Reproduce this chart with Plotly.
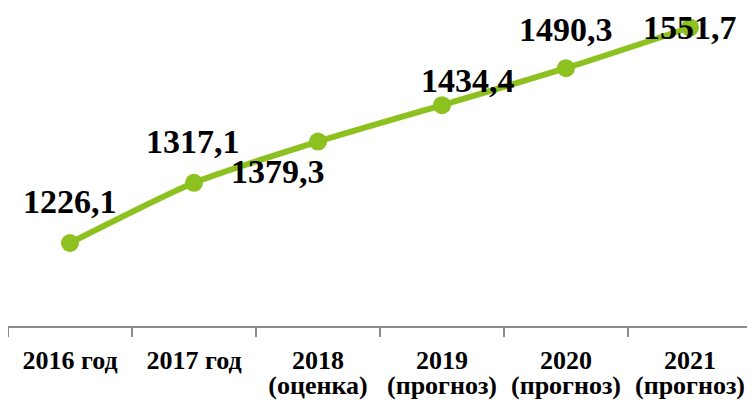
import plotly.graph_objects as go

# ── Data ──────────────────────────────────────────────────────────────────────
YEARS = ["2016 год", "2017 год", "2018", "2019", "2020", "2021"]
YEAR_NOTES = ["", "", "(оценка)", "(прогноз)", "(прогноз)", "(прогноз)"]
VALUES = [1226.1, 1317.1, 1379.3, 1434.4, 1490.3, 1551.7]
VALUE_LABELS = ["1226,1", "1317,1", "1379,3", "1434,4", "1490,3", "1551,7"]

# label offsets in px (x, y) relative to each marker
LABEL_SHIFT = [(0, 42), (-1, 41), (-40, -30), (26, 25), (0, 39), (0, 0)]

GREEN = "#8CC11F"
AXIS_GREY = "#8C8C8C"
SERIF = "Liberation Serif"

# the page body has an 8px margin, so the figure is sized to fit the window
FIG_W, FIG_H = 747, 403

categories = [f"{y} {n}".strip() for y, n in zip(YEARS, YEAR_NOTES)]


def _tick(year, note):
    # small nominal font keeps the line spacing tight, span sets the real size
    big = '<span style="font-size:26px">%s</span>'
    if note:
        return big % year + "<br>" + big % note
    return big % year


tick_text = [_tick(y, n) for y, n in zip(YEARS, YEAR_NOTES)]

fig = go.Figure()
fig.add_trace(
    go.Scatter(
        x=categories,
        y=VALUES,
        mode="lines+markers",
        line=dict(color=GREEN, width=6, shape="spline", smoothing=0.6),
        marker=dict(color=GREEN, size=18),
        cliponaxis=False,
        hoverinfo="skip",
    )
)

for cat, v, lbl, (dx, dy) in zip(categories, VALUES, VALUE_LABELS, LABEL_SHIFT):
    fig.add_annotation(
        x=cat,
        y=v,
        text=lbl,
        showarrow=False,
        xanchor="center",
        yanchor="middle",
        xshift=dx,
        yshift=dy,
        font=dict(family=SERIF, size=34, color="#000000", weight="bold"),
    )

fig.update_layout(
    width=FIG_W,
    height=FIG_H,
    paper_bgcolor="#FFFFFF",
    plot_bgcolor="rgba(0,0,0,0)",
    showlegend=False,
    margin=dict(l=0, r=3, t=0, b=85),
    xaxis=dict(
        type="category",
        categoryorder="array",
        categoryarray=categories,
        range=[-0.5, 5.5],
        tickmode="array",
        tickvals=categories,
        ticktext=tick_text,
        tickangle=0,
        automargin=False,
        tickson="boundaries",
        ticks="outside",
        ticklen=9,
        tickwidth=2,
        tickcolor=AXIS_GREY,
        showline=True,
        linecolor=AXIS_GREY,
        linewidth=2,
        showgrid=False,
        zeroline=False,
        ticklabelstandoff=18,
        tickfont=dict(family=SERIF, size=19, color="#000000", weight="bold"),
        fixedrange=True,
    ),
    yaxis=dict(
        range=[1100.7, 1581.2],
        visible=False,
        automargin=False,
        fixedrange=True,
    ),
)

fig.write_html("out.html")
